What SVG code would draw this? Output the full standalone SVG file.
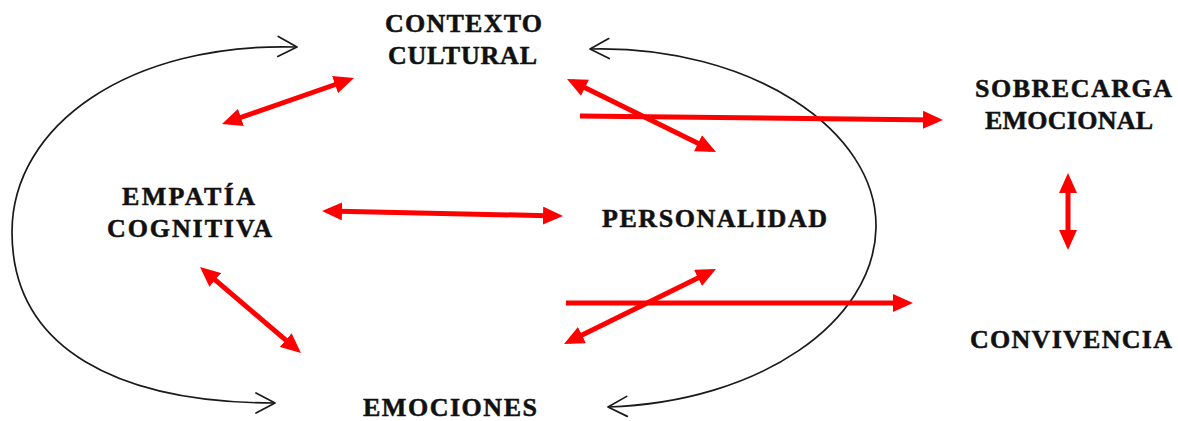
<svg xmlns="http://www.w3.org/2000/svg" width="1178" height="421" viewBox="0 0 1178 421">
<style>
.lbl{font-family:"Liberation Serif","Times New Roman",serif;font-weight:bold;font-size:26px;fill:#111;stroke:#111;stroke-width:0.5;}
.red{stroke:#ff0000;stroke-width:5;fill:none;marker-end:url(#rh);}
.red2{marker-start:url(#rh);}
.blk{stroke:#1a1a1a;stroke-width:1.7;fill:none;marker-start:url(#ch);marker-end:url(#ch);}
</style>
<defs>
<marker id="rh" markerUnits="userSpaceOnUse" viewBox="0 0 20 18" markerWidth="20" markerHeight="18" refX="14" refY="9" orient="auto-start-reverse">
<path d="M0,0 L20,9 L0,18 Z" fill="#ff0000"/>
</marker>
<marker id="ch" markerUnits="userSpaceOnUse" viewBox="-2 -2 24 24" markerWidth="24" markerHeight="24" refX="19" refY="10" orient="auto-start-reverse" overflow="visible">
<path d="M0,0 L19,10 L0,20" fill="none" stroke="#1a1a1a" stroke-width="1.7" stroke-linecap="round" stroke-linejoin="round"/>
</marker>
</defs>
<rect width="1178" height="421" fill="#ffffff"/>
<g id="connectors">
<path class="blk" d="M297,47 C130,42 12,125 12,232 C12,350 120,403 275,403"/>
<path class="blk" d="M590,49 C750,45 878,130 876,228 C874,322 760,402 608,407"/>
<line class="red red2" x1="227.7" y1="122" x2="348.3" y2="80"/>
<line class="red red2" x1="572.4" y1="81.6" x2="710.6" y2="149.4"/>
<line class="red" x1="580" y1="116" x2="937" y2="119.9"/>
<line class="red red2" x1="328" y1="211.1" x2="557" y2="215.9"/>
<line class="red red2" x1="204.6" y1="270.9" x2="296.4" y2="349.1"/>
<line class="red red2" x1="569.4" y1="341.3" x2="710.6" y2="271.7"/>
<line class="red" x1="566" y1="303" x2="907" y2="303"/>
<line class="red red2" x1="1068" y1="179" x2="1068" y2="244"/>
</g>
<g id="contexto-cultural">
<text class="lbl" x="385" y="31.5" textLength="157" lengthAdjust="spacing">CONTEXTO</text>
<text class="lbl" x="388" y="63.5" textLength="149" lengthAdjust="spacing">CULTURAL</text>
</g>
<g id="sobrecarga-emocional">
<text class="lbl" x="975" y="96.5" textLength="197" lengthAdjust="spacing">SOBRECARGA</text>
<text class="lbl" x="985" y="128.5" textLength="168" lengthAdjust="spacing">EMOCIONAL</text>
</g>
<g id="empatia-cognitiva">
<text class="lbl" x="122" y="205" textLength="133" lengthAdjust="spacing">EMPATÍA</text>
<text class="lbl" x="107" y="237" textLength="165" lengthAdjust="spacing">COGNITIVA</text>
</g>
<g id="personalidad">
<text class="lbl" x="602" y="226.5" textLength="225" lengthAdjust="spacing">PERSONALIDAD</text>
</g>
<g id="convivencia">
<text class="lbl" x="970" y="347.5" textLength="202" lengthAdjust="spacing">CONVIVENCIA</text>
</g>
<g id="emociones">
<text class="lbl" x="363" y="415.5" textLength="174" lengthAdjust="spacing">EMOCIONES</text>
</g>
</svg>
